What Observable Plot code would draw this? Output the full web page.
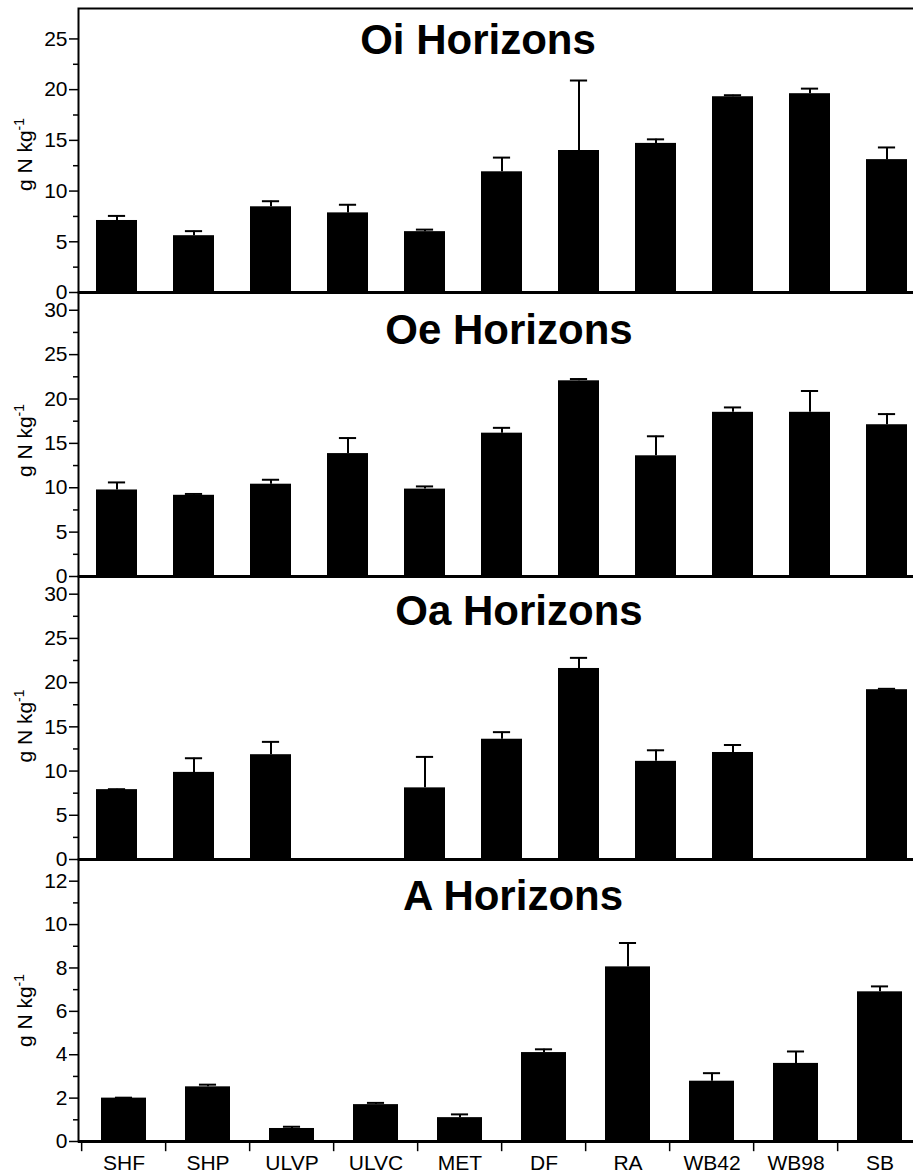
<!DOCTYPE html>
<html><head><meta charset="utf-8">
<script src="https://cdn.jsdelivr.net/npm/d3@7"></script>
<script src="https://cdn.jsdelivr.net/npm/@observablehq/plot@0.6"></script>
<style>
html,body{margin:0;padding:0;background:#fff;overflow:hidden;}
#chart{position:relative;width:913px;height:1176px;overflow:hidden;background:#fff;}
#chart svg{position:absolute;left:0;}
</style></head><body><div id="chart"></div>
<script>
// O-horizon panels have 11 bar slots (unlabelled); A panel has the 10 labelled sites
const oSlots = ["1","2","3","4","5","6","7","8","9","10","11"];
const aSites = ["SHF","SHP","ULVP","ULVC","MET","DF","RA","WB42","WB98","SB"];

const oiValues = [7.1, 5.6, 8.45, 7.85, 6.0, 11.9, 14.0, 14.7, 19.3, 19.6, 13.1];
const oiErr    = [0.45, 0.45, 0.55, 0.8, 0.2, 1.4, 6.9, 0.4, 0.15, 0.5, 1.2];

const oeValues = [9.75, 9.15, 10.4, 13.85, 9.85, 16.15, 22.05, 13.6, 18.5, 18.5, 17.1];
const oeErr    = [0.85, 0.15, 0.5, 1.75, 0.3, 0.6, 0.2, 2.2, 0.55, 2.4, 1.2];

const oaValues = [7.9, 9.85, 11.85, null, 8.1, 13.6, 21.6, 11.1, 12.1, null, 19.2];
const oaErr    = [0.05, 1.6, 1.45, null, 3.5, 0.8, 1.2, 1.25, 0.85, null, 0.1];

const aValues  = [2.0, 2.52, 0.6, 1.7, 1.1, 4.1, 8.05, 2.78, 3.6, 6.9];
const aErr     = [0.02, 0.1, 0.08, 0.08, 0.15, 0.15, 1.1, 0.37, 0.55, 0.25];

const titles = ["Oi Horizons", "Oe Horizons", "Oa Horizons", "A Horizons"];
const yLabel = "g N kg-1";

const oMajors = [0, 5, 10, 15, 20, 25, 30];
const oMinors = [2.5, 7.5, 12.5, 17.5, 22.5, 27.5];
const aMajors = [0, 2, 4, 6, 8, 10, 12];
const aMinors = [1, 3, 5, 7, 9, 11];

const W = 925, ML = 78, PAD = 24;
const FONT = "'Liberation Sans', Arial, Helvetica, sans-serif";
const PIN = 0.47, POUT = 0.235, CAPW = 17;

function panel(o) {
  const data = o.sites.map((s, i) => ({site: s, value: o.values[i], err: o.errs[i]}))
    .filter(d => d.value != null);
  const step = (W - ML) / o.sites.length;
  const bw = step * (1 - PIN);
  const capInset = (bw - CAPW) / 2;
  const marks = [
    Plot.barY(data, {x: "site", y: "value", fill: "black"}),
    Plot.ruleX(data, {x: "site", y1: "value", y2: d => d.value + d.err, stroke: "black", strokeWidth: 2}),
    Plot.tickY(data, {x: "site", y: d => d.value + d.err, stroke: "black", strokeWidth: 2, insetLeft: capInset, insetRight: capInset}),
    Plot.ruleY([0], {stroke: "black", strokeWidth: 3}),
    Plot.frame({stroke: "black", strokeWidth: 2}),
    Plot.axisY({ticks: o.majors.filter(v => v <= o.yMax), tickSize: 9, tickPadding: 2, fontSize: 21, label: null, strokeWidth: 1.5}),
    Plot.axisY({ticks: o.minors.filter(v => v < o.yMax - 1), tickSize: 5, tickFormat: () => "", label: null, strokeWidth: 1.5}),
    Plot.text([o.title], {text: d => d, frameAnchor: "top", lineAnchor: "bottom", dx: o.titleDx, dy: o.titleDy,
      fontSize: 42, fontWeight: "bold", fill: "black"}),
    Plot.text([yLabel], {text: d => d, frameAnchor: "left", textAnchor: "middle", rotate: -90, dx: -53, dy: o.labelDy,
      fontSize: 21, fill: "black"})
  ];
  if (o.xLabels) {
    marks.push(Plot.axisX({tickSize: 0, tickPadding: 14, fontSize: 21, label: null}));
    marks.push(Plot.ruleX(o.sites, {x: d => d, y1: 0, y2: -0.47, dx: -step / 2, stroke: "black", strokeWidth: 1.5}));
  }
  const svg = Plot.plot({
    width: W,
    height: o.mt + o.plotH + o.mb,
    marginLeft: ML, marginRight: 0, marginTop: o.mt, marginBottom: o.mb,
    x: {domain: o.sites, paddingInner: PIN, paddingOuter: POUT, axis: null},
    y: {domain: [0, o.yMax], axis: null},
    style: {background: "transparent", overflow: "visible", maxWidth: "none", fontFamily: FONT, color: "black"},
    marks
  });
  svg.style.top = o.top + "px";
  // superscript for the unit label
  svg.querySelectorAll("text").forEach(t => {
    if (t.textContent === yLabel) {
      t.textContent = "g N kg";
      const ts = document.createElementNS("http://www.w3.org/2000/svg", "tspan");
      ts.setAttribute("font-size", "14");
      ts.setAttribute("dy", "-0.6em");
      ts.textContent = "-1";
      t.appendChild(ts);
    }
  });
  document.getElementById("chart").appendChild(svg);
}

panel({sites: oSlots, values: oiValues, errs: oiErr, title: titles[0], yMax: 28, majors: oMajors, minors: oMinors,
  top: 0, mt: 8, plotH: 284, mb: PAD, titleDx: -24, titleDy: 45, labelDy: 4});
panel({sites: oSlots, values: oeValues, errs: oeErr, title: titles[1], yMax: 32, majors: oMajors, minors: oMinors,
  top: 292 - PAD, mt: PAD, plotH: 284, mb: PAD, titleDx: 7, titleDy: 51, labelDy: 6});
panel({sites: oSlots, values: oaValues, errs: oaErr, title: titles[2], yMax: 32, majors: oMajors, minors: oMinors,
  top: 576 - PAD, mt: PAD, plotH: 283, mb: PAD, titleDx: 17, titleDy: 48, labelDy: 8});
panel({sites: aSites, values: aValues, errs: aErr, title: titles[3], yMax: 13, majors: aMajors, minors: aMinors,
  top: 859 - PAD, mt: PAD, plotH: 282, mb: 35, titleDx: 11, titleDy: 50, labelDy: 10, xLabels: true});
</script></body></html>
